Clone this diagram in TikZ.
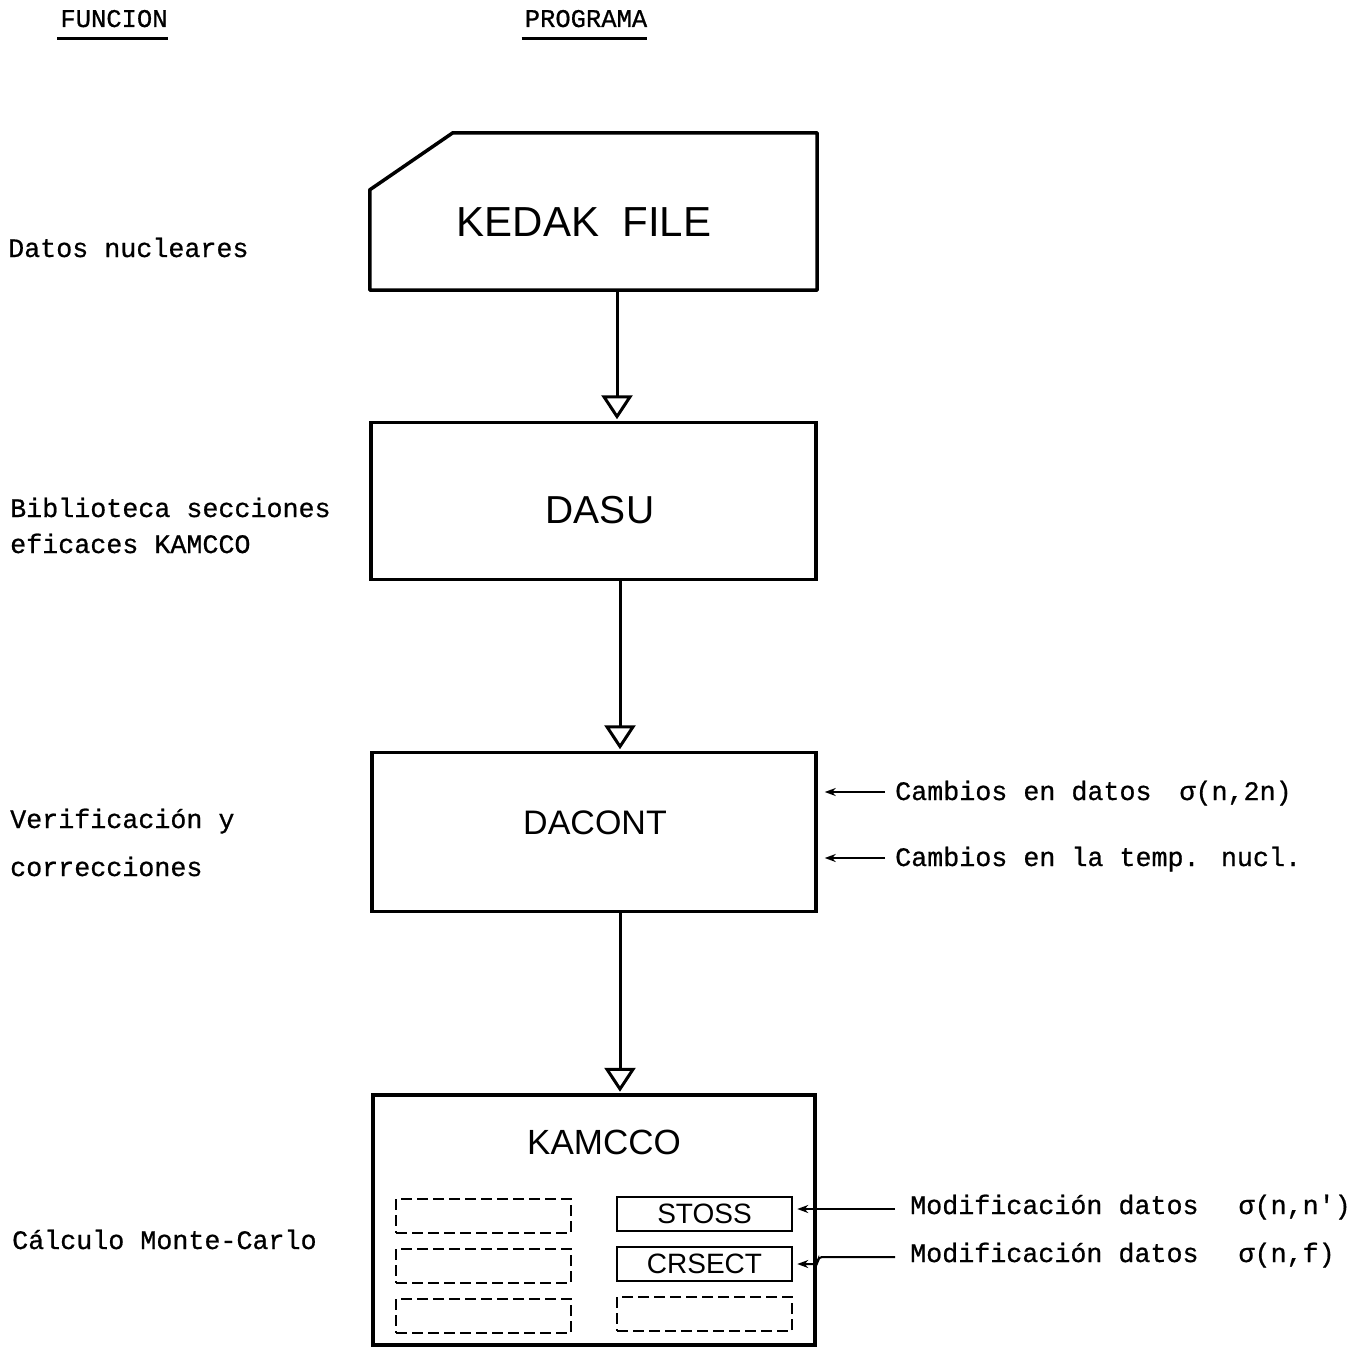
\documentclass[tikz,border=0pt]{standalone}
\usepackage{fontspec}
\newfontfamily\tw[FakeBold=0.7]{Liberation Mono}
\newfontfamily\boxfont{Liberation Sans}
\usetikzlibrary{arrows.meta}
\begin{document}
\begin{tikzpicture}[x=1pt,y=-1pt,
  bigbox/.style={draw, line width=3.5pt, minimum width=445pt, minimum height=157pt, inner sep=0pt},
  btext/.style={font=\boxfont\fontsize{#1}{#1}\selectfont, inner sep=0pt},
  mono/.style={font=\tw\fontsize{26.7}{30}\selectfont, inner sep=0pt, anchor=base west},
  hdr/.style={font=\tw\fontsize{25.5}{30}\selectfont, inner sep=0pt, anchor=base},
  flow/.style={line width=3pt, -{Triangle[open, length=24pt, width=31pt, line width=3pt]}, shorten >=1.5pt},
  sarrow/.style={line width=2pt, -{Stealth[length=11pt, width=8pt]}},
  subbox/.style={draw, line width=2.5pt, minimum width=175pt, minimum height=34pt, inner sep=0pt},
  dashbox/.style={subbox, dash pattern=on 11pt off 5pt, line width=2.2pt},
  uline/.style={line width=3pt}
]
\useasboundingbox (0,0) rectangle (1366,1349);

% headers
\node[hdr] (hf) at (114,27) {FUNCION};
\node[hdr] (hp) at (586,27) {PROGRAMA};
\draw[uline] (hf.south west) ++(-3,11) coordinate (hfa) -- (hfa -| hf.south east);
\draw[uline] (hp.south west) ++(-3,11) coordinate (hpa) -- (hpa -| hp.south east);

% KEDAK FILE (card)
\node[minimum width=447pt, minimum height=157pt, inner sep=0pt] (kedak) at (593.5,211.5) {};
\draw[line width=3.5pt, line join=round]
  (kedak.south west) -- ([yshift=-57pt]kedak.north west) -- ([xshift=83pt]kedak.north west)
  -- (kedak.north east) -- (kedak.south east) -- cycle;
\node[btext=42] (kedakt) at (584,222) {KEDAK\ \ FILE};

% DASU
\node[bigbox] (dasu) at (593.5,501) {};
\node[btext=39] (dasut) at (600,510) {DASU};

% DACONT
\node[bigbox, minimum width=444pt, minimum height=159pt] (dacont) at (594,832) {};
\node[btext=34] (dacontt) at (595,823) {DACONT};

% KAMCCO
\node[bigbox, minimum width=442pt, minimum height=250pt] (kamcco) at (594,1220) {};
\node[btext=35] (kamccot) at (604,1142) {KAMCCO};

\node[dashbox] (l1) at (483.5,1216) {};
\node[dashbox] (l2) at (483.5,1266) {};
\node[dashbox] (l3) at (483.5,1316) {};
\node[subbox] (stoss) at (704.5,1214) {\boxfont\fontsize{28}{28}\selectfont STOSS};
\node[subbox] (crsect) at (704.5,1264) {\boxfont\fontsize{28}{28}\selectfont CRSECT};
\node[dashbox] (r3) at (704.5,1314) {};

% main flow arrows
\draw[flow] ([xshift=23.5pt]kedak.south) -- ([xshift=23.5pt]dasu.north);
\draw[flow] ([xshift=26.5pt]dasu.south) -- ([xshift=26pt]dacont.north);
\draw[flow] ([xshift=26pt]dacont.south) -- ([xshift=26pt]kamcco.north);

% left column
\node[mono] (f1) at (8,257) {Datos nucleares};
\node[mono] (f2a) at (10,517) {Biblioteca secciones};
\node[mono] (f2b) at (10,553) {eficaces KAMCCO};
\node[mono] (f3a) at (10,828) {Verificación y};
\node[mono] (f3b) at (10,876) {correcciones};
\node[mono] (f4) at (12,1249) {Cálculo Monte-Carlo};

% right inputs to DACONT
\node[mono] (c1) at (895,800) {Cambios en datos\hspace{28pt}σ(n,2n)};
\node[mono] (c2) at (895,866) {Cambios en la temp. nucl.};
\coordinate (c1s) at (885,792);
\coordinate (c2s) at (885,858);
\draw[sarrow, shorten >=7pt] (c1s) -- (c1s -| dacont.east);
\draw[sarrow, shorten >=7pt] (c2s) -- (c2s -| dacont.east);

% right inputs to KAMCCO subroutines
\node[mono] (m1) at (910,1214) {Modificación datos\hspace{40pt}σ(n,n')};
\node[mono] (m2) at (910,1262) {Modificación datos\hspace{40pt}σ(n,f)};
\coordinate (m1s) at (895,1209);
\coordinate (m2s) at (895,1257);
\draw[sarrow, shorten >=4pt] (m1s) -- (m1s -| stoss.east);
\draw[sarrow, shorten >=4pt, rounded corners=4pt] (m2s) -- (818,1257) -- (818,1264) -- (crsect.east);
\end{tikzpicture}
\end{document}
